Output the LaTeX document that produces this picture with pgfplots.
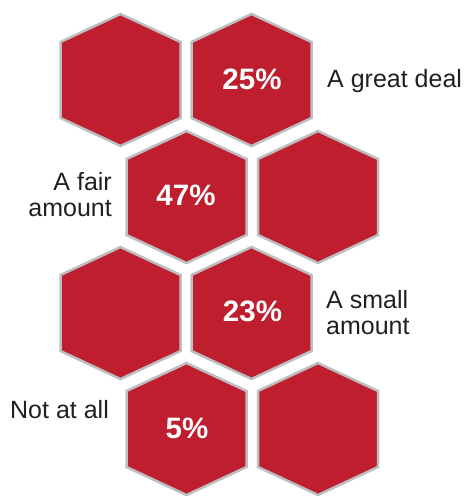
\documentclass[border=0pt]{standalone}
\usepackage{pgfplots}
\pgfplotsset{compat=1.18}
\usepackage{fontspec}
\setmainfont{Liberation Sans}
\definecolor{hexred}{HTML}{BE1E2D}
\definecolor{hexgrey}{HTML}{BCBEC2}
\definecolor{txt}{HTML}{231F20}
\tikzset{
  lbl/.style={font=\fontsize{25}{30}\selectfont, text=txt, inner sep=0pt},
  pct/.style={font=\fontsize{29.5}{34}\selectfont\bfseries, text=white, inner sep=0pt, anchor=center},
}
\pgfplotsset{hex/.style={fill=hexred, draw=hexgrey, line width=2.5pt, mark=none, line join=miter}}
\begin{document}
\begin{tikzpicture}
\begin{axis}[
  width=468pt, height=496pt, scale only axis,
  xmin=0, xmax=468, ymin=0, ymax=496, y dir=reverse,
  hide axis, clip=false,
]
% row 1
\addplot[hex] coordinates {(120.5,14) (180.5,42) (180.5,118) (120.5,146) (60.5,118) (60.5,42)} --cycle;
\addplot[hex] coordinates {(251.5,14) (311.5,42) (311.5,118) (251.5,146) (191.5,118) (191.5,42)} --cycle;
% row 2
\addplot[hex] coordinates {(186.5,131) (246.5,159) (246.5,235) (186.5,263) (126.5,235) (126.5,159)} --cycle;
\addplot[hex] coordinates {(318,131) (378,159) (378,235) (318,263) (258,235) (258,159)} --cycle;
% row 3
\addplot[hex] coordinates {(120.5,247) (180.5,275) (180.5,351) (120.5,379) (60.5,351) (60.5,275)} --cycle;
\addplot[hex] coordinates {(251.5,247) (311.5,275) (311.5,351) (251.5,379) (191.5,351) (191.5,275)} --cycle;
% row 4
\addplot[hex] coordinates {(186.5,363) (246.5,391) (246.5,467) (186.5,495) (126.5,467) (126.5,391)} --cycle;
\addplot[hex] coordinates {(318,363) (378,391) (378,467) (318,495) (258,467) (258,391)} --cycle;

\node[pct] at (axis cs:252,79) {25\%};
\node[pct] at (axis cs:186,195.5) {47\%};
\node[pct] at (axis cs:252.5,311.7) {23\%};
\node[pct] at (axis cs:187,428) {5\%};

\node[lbl, anchor=base west] at (axis cs:327,87.3) {A great deal};
\node[lbl, anchor=base east] at (axis cs:112,190.7) {A fair};
\node[lbl, anchor=base east] at (axis cs:112,216.7) {amount};
\node[lbl, anchor=base west] at (axis cs:326,308.3) {A small};
\node[lbl, anchor=base west] at (axis cs:326,334) {amount};
\node[lbl, anchor=base west] at (axis cs:10,418.3) {Not at all};
\end{axis}
\pgfresetboundingbox
\path (0,0) rectangle (468pt,496pt);
\end{tikzpicture}
\end{document}
